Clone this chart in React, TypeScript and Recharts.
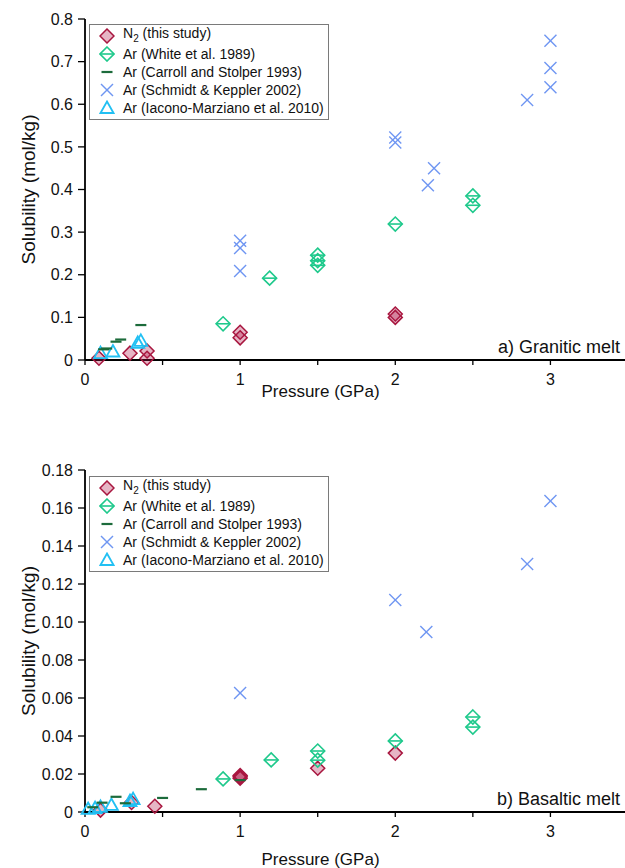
import { ScatterChart, Scatter, XAxis, YAxis, Legend } from "recharts";

const FONT = "'Liberation Sans', Arial, Helvetica, sans-serif";

// axes
const pressureTicks = [0, 0.5, 1, 1.5, 2, 2.5, 3, 3.5];
const graniteTicks = [0, 0.1, 0.2, 0.3, 0.4, 0.5, 0.6, 0.7, 0.8];
const basaltTicks = [0, 0.02, 0.04, 0.06, 0.08, 0.1, 0.12, 0.14, 0.16, 0.18];

// a) granitic melt — pressure (GPa) / solubility (mol/kg)
const grN2P = [0.09, 0.29, 0.4, 0.4, 1, 1, 2, 2];
const grN2S = [0.004, 0.016, 0.021, 0.004, 0.065, 0.052, 0.108, 0.1];
const grWhiteP = [0.89, 1.19, 1.5, 1.5, 1.5, 2, 2.5, 2.5];
const grWhiteS = [0.085, 0.192, 0.246, 0.233, 0.222, 0.319, 0.385, 0.363];
const grCarrollP = [0.12, 0.14, 0.2, 0.23, 0.36];
const grCarrollS = [0.025, 0.027, 0.043, 0.048, 0.082];
const grSchmidtP = [1, 1, 1, 2, 2, 2.21, 2.25, 2.85, 3, 3, 3];
const grSchmidtS = [0.28, 0.263, 0.209, 0.522, 0.51, 0.41, 0.45, 0.61, 0.749, 0.685, 0.64];
const grIaconoP = [0.1, 0.18, 0.34, 0.36];
const grIaconoS = [0.016, 0.02, 0.04, 0.045];

// b) basaltic melt
const baN2P = [0.1, 0.3, 0.45, 1, 1, 1, 1.5, 2];
const baN2S = [0.001, 0.005, 0.003, 0.0185, 0.0192, 0.0178, 0.023, 0.031];
const baWhiteP = [0.89, 1.2, 1.5, 1.5, 2, 2.5, 2.5];
const baWhiteS = [0.0174, 0.0274, 0.0321, 0.0273, 0.0374, 0.05, 0.0447];
const baCarrollP = [0.05, 0.11, 0.2, 0.26, 0.5, 0.75, 1];
const baCarrollS = [0.0025, 0.0049, 0.008, 0.0046, 0.0074, 0.012, 0.0168];
const baSchmidtP = [1, 2, 2.2, 2.85, 3];
const baSchmidtS = [0.0626, 0.1116, 0.0947, 0.1305, 0.1637];
const baIaconoP = [0.02, 0.065, 0.1, 0.17, 0.29, 0.31];
const baIaconoS = [0.0016, 0.002, 0.0027, 0.0037, 0.0058, 0.0068];

const zip = (p: number[], s: number[]) => p.map((x, i) => ({ x, y: s[i] }));

// marker shapes
const N2Shape = ({ cx, cy }: any) => {
  const r = 7;
  return (
    <polygon
      points={`${cx},${cy - r} ${cx + r},${cy} ${cx},${cy + r} ${cx - r},${cy}`}
      fill="#b0184a"
      fillOpacity={0.32}
      stroke="#a8163f"
      strokeWidth={1.5}
    />
  );
};

const WhiteShape = ({ cx, cy }: any) => {
  const r = 7;
  return (
    <g stroke="#1fc98c" strokeWidth={1.6} fill="none">
      <polygon points={`${cx},${cy - r} ${cx + r},${cy} ${cx},${cy + r} ${cx - r},${cy}`} />
      <line x1={cx - r} y1={cy} x2={cx + r} y2={cy} />
    </g>
  );
};

const CarrollShape = ({ cx, cy }: any) => (
  <line x1={cx - 5.5} y1={cy} x2={cx + 5.5} y2={cy} stroke="#1c6b3b" strokeWidth={2.2} />
);

const SchmidtShape = ({ cx, cy }: any) => {
  const r = 6;
  return (
    <g stroke="#6f96f2" strokeWidth={1.4}>
      <line x1={cx - r} y1={cy - r} x2={cx + r} y2={cy + r} />
      <line x1={cx - r} y1={cy + r} x2={cx + r} y2={cy - r} />
    </g>
  );
};

const IaconoShape = ({ cx, cy }: any) => (
  <polygon
    points={`${cx},${cy - 6.5} ${cx + 6.5},${cy + 5} ${cx - 6.5},${cy + 5}`}
    fill="none"
    stroke="#22c0f3"
    strokeWidth={1.8}
  />
);

const LEGEND_ROWS = [
  { key: "n2", shape: N2Shape, label: <>N<sub style={{ fontSize: 10 }}>2</sub> (this study)</> },
  { key: "white", shape: WhiteShape, label: "Ar (White et al. 1989)" },
  { key: "carroll", shape: CarrollShape, label: "Ar (Carroll and Stolper 1993)" },
  { key: "schmidt", shape: SchmidtShape, label: "Ar (Schmidt & Keppler 2002)" },
  { key: "iacono", shape: IaconoShape, label: "Ar (Iacono-Marziano et al. 2010)" },
];

function LegendBox() {
  return (
    <div
      style={{
        border: "1px solid #7a7a7a",
        background: "#fff",
        width: 240,
        padding: "1px 0 2px 9px",
        fontFamily: FONT,
        fontSize: 14,
        color: "#111",
        boxSizing: "border-box",
      }}
    >
      {LEGEND_ROWS.map((r, i) => {
        const Shape = r.shape;
        return (
          <div key={r.key} style={{ display: "flex", alignItems: "center", height: i === 0 ? 19 : 18 }}>
            <svg width={16} height={16} style={{ flex: "none" }}>
              <Shape cx={8} cy={8} />
            </svg>
            <span style={{ marginLeft: 8, whiteSpace: "nowrap", lineHeight: "16px" }}>{r.label}</span>
          </div>
        );
      })}
    </div>
  );
}

interface PanelProps {
  top: number;
  height: number;
  xAxisHeight: number;
  legendTop: number;
  yDomain: [number, number];
  yTicks: number[];
  digits: number;
  note: string;
  series: { n2: any[]; white: any[]; carroll: any[]; schmidt: any[]; iacono: any[] };
}

function Panel({ top, height, xAxisHeight, legendTop, yDomain, yTicks, digits, note, series }: PanelProps) {
  const axisStyle = { stroke: "#000", strokeWidth: 1.8 };
  const tickStyle = { fill: "#111", fontSize: 16, fontFamily: FONT };
  const plotBottom = height - xAxisHeight;
  return (
    <div style={{ position: "absolute", left: 0, top, width: 640, height }}>
      <ScatterChart width={640} height={height} margin={{ top: 19, right: 12, bottom: 0, left: 0 }}>
        <XAxis
          type="number"
          dataKey="x"
          domain={[0, 3.5]}
          ticks={pressureTicks}
          tickFormatter={(v: number) => (Number.isInteger(v) ? String(v) : "")}
          height={xAxisHeight}
          tickSize={5}
          tickMargin={9}
          axisLine={axisStyle}
          tickLine={{ stroke: "#000", strokeWidth: 1.3 }}
          tick={tickStyle}
          label={{
            value: "Pressure (GPa)",
            position: "insideBottom",
            offset: 3,
            dx: -36,
            style: { fontSize: 17, fontFamily: FONT, fill: "#111" },
          }}
        />
        <XAxis
          xAxisId="top"
          orientation="top"
          type="number"
          domain={[0, 3.5]}
          height={0}
          tick={false}
          tickLine={false}
          axisLine={axisStyle}
        />
        <YAxis
          type="number"
          dataKey="y"
          domain={yDomain}
          ticks={yTicks}
          tickFormatter={(v: number) => (v === 0 ? "0" : v.toFixed(digits))}
          width={85}
          tickSize={7}
          tickMargin={5}
          axisLine={axisStyle}
          tickLine={{ stroke: "#000", strokeWidth: 1.3 }}
          tick={tickStyle}
          label={{
            value: "Solubility (mol/kg)",
            angle: -90,
            position: "insideLeft",
            offset: 28,
            dy: 0,
            style: { textAnchor: "middle", fontSize: 19, fontFamily: FONT, fill: "#111" },
          }}
        />
        <Legend
          layout="vertical"
          align="center"
          verticalAlign="middle"
          content={() => <LegendBox />}
          wrapperStyle={{ top: legendTop, left: 89, width: "auto", height: "auto" }}
        />
        <Scatter data={series.n2} shape={N2Shape} isAnimationActive={false} />
        <Scatter data={series.white} shape={WhiteShape} isAnimationActive={false} />
        <Scatter data={series.schmidt} shape={SchmidtShape} isAnimationActive={false} />
        <Scatter data={series.iacono} shape={IaconoShape} isAnimationActive={false} />
        <Scatter data={series.carroll} shape={CarrollShape} isAnimationActive={false} />
      </ScatterChart>
      <div
        style={{
          position: "absolute",
          right: 20,
          top: plotBottom - 23,
          fontFamily: FONT,
          fontSize: 18,
          color: "#111",
          whiteSpace: "nowrap",
        }}
      >
        {note}
      </div>
    </div>
  );
}

export default function App() {
  return (
    <div
      style={{
        position: "absolute",
        left: 0,
        top: 0,
        width: 625,
        height: 868,
        overflow: "hidden",
        background: "#fff",
      }}
    >
      <Panel
        top={0}
        height={400}
        xAxisHeight={40}
        legendTop={24}
        yDomain={[0, 0.8]}
        yTicks={graniteTicks}
        digits={1}
        note="a) Granitic melt"
        series={{
          n2: zip(grN2P, grN2S),
          white: zip(grWhiteP, grWhiteS),
          carroll: zip(grCarrollP, grCarrollS),
          schmidt: zip(grSchmidtP, grSchmidtS),
          iacono: zip(grIaconoP, grIaconoS),
        }}
      />
      <Panel
        top={451}
        height={417}
        xAxisHeight={56}
        legendTop={25}
        yDomain={[0, 0.18]}
        yTicks={basaltTicks}
        digits={2}
        note="b) Basaltic melt"
        series={{
          n2: zip(baN2P, baN2S),
          white: zip(baWhiteP, baWhiteS),
          carroll: zip(baCarrollP, baCarrollS),
          schmidt: zip(baSchmidtP, baSchmidtS),
          iacono: zip(baIaconoP, baIaconoS),
        }}
      />
    </div>
  );
}
